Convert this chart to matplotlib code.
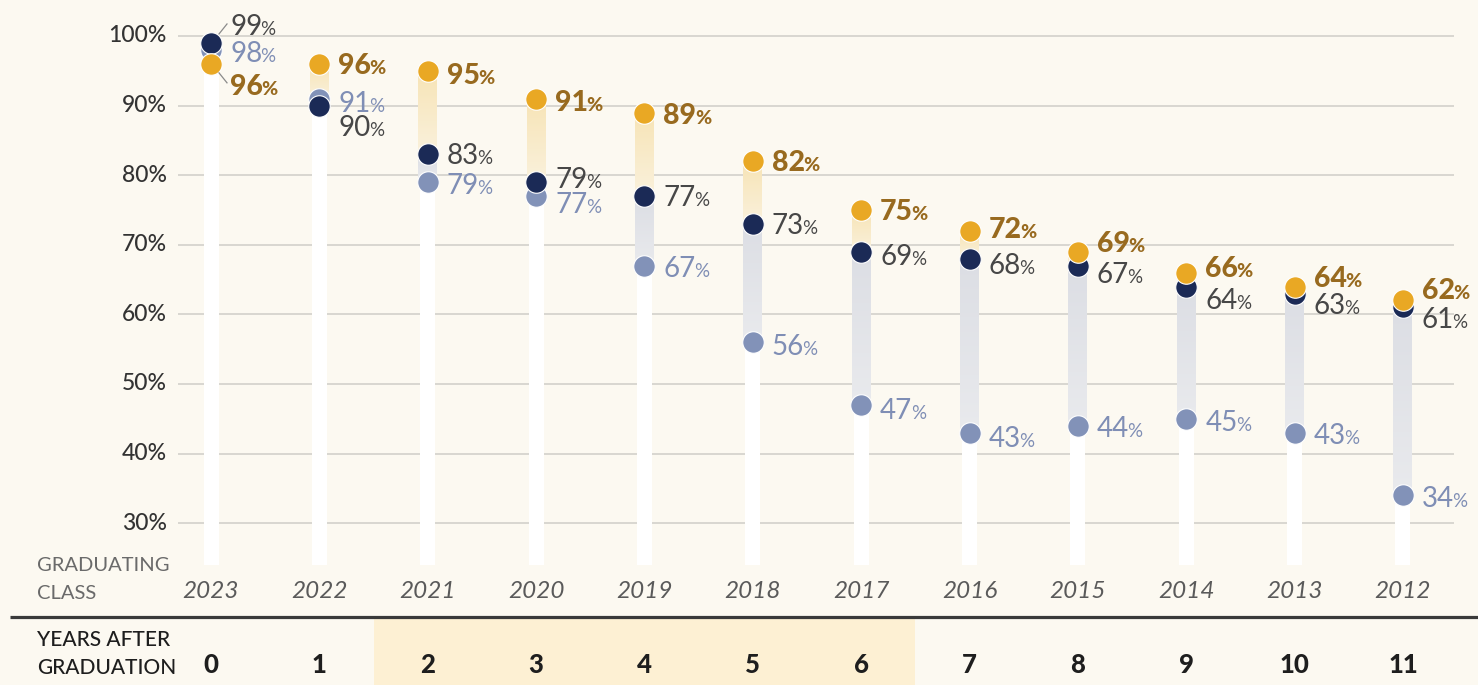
import matplotlib
matplotlib.use("Agg")
import matplotlib.pyplot as plt
import numpy as np
from matplotlib.colors import LinearSegmentedColormap

# ---------------- data ----------------
grad_class = ["2023", "2022", "2021", "2020", "2019", "2018",
              "2017", "2016", "2015", "2014", "2013", "2012"]
years_after = ["0", "1", "2", "3", "4", "5", "6", "7", "8", "9", "10", "11"]
gold_vals = [96, 96, 95, 91, 89, 82, 75, 72, 69, 66, 64, 62]
navy_vals = [99, 90, 83, 79, 77, 73, 69, 68, 67, 64, 63, 61]
slate_vals = [98, 91, 79, 77, 67, 56, 47, 43, 44, 45, 43, 34]
y_ticks = [30, 40, 50, 60, 70, 80, 90, 100]
highlight_years = (2, 6)

# ---------------- layout / style ----------------
BG = "#fcf9f1"
HILITE = "#fdf0d3"
GOLD = "#e9a824"
NAVY = "#1b2a56"
SLATE = "#8292b8"
GOLD_TXT = "#986a1f"
NAVY_TXT = "#474747"
SLATE_TXT = "#7f8eb5"
GRID = "#cfcdc8"
FONT = "Lato"

W, H, DPI = 1478, 685, 100
X0, XS = 211.0, 108.36          # pixel x of first column, spacing
Y100, YS = 36.0, 6.96           # pixel y of 100 %, pixels per percent


def X(px):
    return (px - X0) / XS


def Y(py):
    return 100 - (py - Y100) / YS


fig = plt.figure(figsize=(W / DPI, H / DPI), dpi=DPI)
fig.patch.set_facecolor(BG)
ax = fig.add_axes([0, 0, 1, 1])
ax.axis("off")
xlim = (X(0), X(W))
ylim = (Y(H), Y(0))

xs = np.arange(len(grad_class))

# highlight box behind the "years after" row
ax.fill_between([highlight_years[0] - 0.5, highlight_years[1] + 0.5],
                Y(H), Y(618), color=HILITE, zorder=0, linewidth=0)

# gridlines + tick labels
for v in y_ticks:
    ax.plot([X(178), X(1454)], [v, v], color=GRID, lw=1.1, zorder=1,
            solid_capstyle="butt")
    ax.text(X(167), v, f"{v}%", ha="right", va="center", fontsize=16.5,
            color="#333333", family=FONT, fontweight="medium")

# white stems from the bottom up to the lowest dot
bar_bottom = Y(565)
lows = [min(a, b, c) for a, b, c in zip(gold_vals, navy_vals, slate_vals)]
ax.bar(xs, [lo - bar_bottom for lo in lows], bottom=bar_bottom,
       width=15 / XS, color="white", zorder=2, linewidth=0)

gold_cmap = LinearSegmentedColormap.from_list("g", ["#f7e4b6", "#faf1dc"])
gray_cmap = LinearSegmentedColormap.from_list("s", ["#dcdee4", "#e9eaed"])
grad = np.linspace(0, 1, 64).reshape(-1, 1)
band_w = 19 / XS
for x, g, n, s in zip(xs, gold_vals, navy_vals, slate_vals):
    top_other = max(n, s)
    if g > top_other:
        ax.imshow(grad, extent=(x - band_w / 2, x + band_w / 2, top_other, g),
                  cmap=gold_cmap, aspect="auto", origin="upper", zorder=3,
                  interpolation="bilinear")
    if n > s:
        ax.imshow(grad, extent=(x - band_w / 2, x + band_w / 2, s, n),
                  cmap=gray_cmap, aspect="auto", origin="upper", zorder=3,
                  interpolation="bilinear")

# dots
dot_s = 240
ax.scatter(xs, slate_vals, s=dot_s, color=SLATE, edgecolors="white",
           linewidths=0.8, zorder=5)
ax.scatter(xs, navy_vals, s=dot_s, color=NAVY, edgecolors="white",
           linewidths=0.8, zorder=6)
ax.scatter(xs, gold_vals, s=dot_s, color=GOLD, edgecolors="white",
           linewidths=0.8, zorder=7)

# class year labels
for x, c in zip(xs, grad_class):
    ax.text(x, Y(592), c, ha="center", va="center", fontsize=17.5,
            style="italic", fontweight="normal", color="#5a5a5a", family=FONT)

# years after row
for x, n in zip(xs, years_after):
    ax.text(x, Y(665), n, ha="center", va="center", fontsize=18.5,
            fontweight="black", color="#1e1e1e", family=FONT)

ax.text(X(37), Y(571), "GRADUATING", ha="left", va="baseline", fontsize=14.5,
        fontweight="normal", color="#6a6a6a", family=FONT)
ax.text(X(37), Y(599), "CLASS", ha="left", va="baseline", fontsize=14.5,
        fontweight="normal", color="#6a6a6a", family=FONT)
ax.text(X(37), Y(646), "YEARS AFTER", ha="left", va="baseline", fontsize=15,
        fontweight="medium", color="#1e1e1e", family=FONT)
ax.text(X(37), Y(674), "GRADUATION", ha="left", va="baseline", fontsize=15,
        fontweight="medium", color="#1e1e1e", family=FONT)

# separator line
ax.plot([X(10), X(W)], [Y(616.5), Y(616.5)], color="#3a3a3a", lw=2.3,
        zorder=4, solid_capstyle="butt")

ax.set_xlim(*xlim)
ax.set_ylim(*ylim)

# ---------------- value labels ----------------
renderer = fig.canvas.get_renderer()
PX2PT = 72 / DPI

gold_dy = [21, 0, 3, 2, 1, 0, 0, -3, -10, -6, -10, -12]
navy_dy = [-18, 20, 0, -4, 0, 0, 3, 5, 7, 12, 11, 11]
slate_dy = [2, 3, 2, 7, 1, 3, 4, 4, 1, 2, 1, 2]


def value_label(x, v, dy_px, color, weight, num_size, pct_size):
    cap_px = 0.7165 * num_size / PX2PT
    base_pt = -(dy_px + cap_px / 2) * PX2PT
    dx_pt = 19 * PX2PT
    t = ax.annotate(str(v), (x, v), xytext=(dx_pt, base_pt),
                    textcoords="offset points", ha="left", va="baseline",
                    fontsize=num_size, color=color, fontweight=weight,
                    family=FONT, zorder=9, annotation_clip=False)
    w = t.get_window_extent(renderer).width * PX2PT
    ax.annotate("%", (x, v), xytext=(dx_pt + w - 1.2, base_pt),
                textcoords="offset points", ha="left", va="baseline",
                fontsize=pct_size, color=color, fontweight=weight,
                family=FONT, zorder=9, annotation_clip=False)


for x, v, d in zip(xs, gold_vals, gold_dy):
    value_label(x, v, d, GOLD_TXT, "black", 20.5, 14)
for x, v, d in zip(xs, navy_vals, navy_dy):
    value_label(x, v, d, NAVY_TXT, "normal", 20, 13.5)
for x, v, d in zip(xs, slate_vals, slate_dy):
    value_label(x, v, d, SLATE_TXT, "normal", 20, 13.5)

# leader lines for the crowded first column
for v, sign in ((navy_vals[0], -1), (gold_vals[0], 1)):
    x_start = xs[0] + 8 / XS
    x_end = xs[0] + 16 / XS
    y_start = v - sign * 9 / YS
    y_end = v - sign * 19 / YS
    ax.plot([x_start, x_end], [y_start, y_end], color="#8a8a8a", lw=0.9,
            zorder=8)

fig.savefig("out.png", dpi=DPI, facecolor=BG)
